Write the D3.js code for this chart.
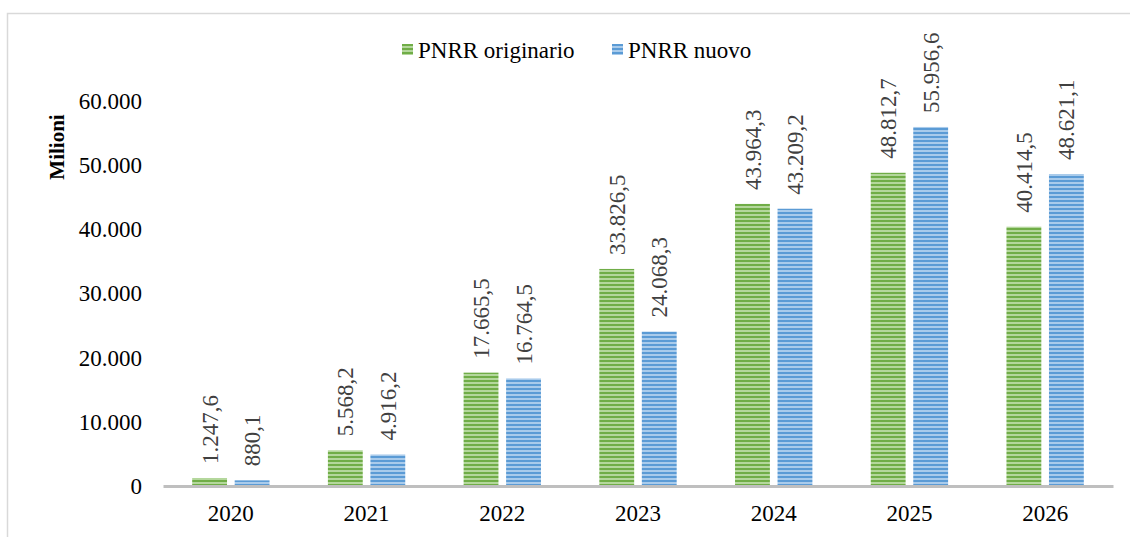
<!DOCTYPE html>
<html>
<head>
<meta charset="utf-8">
<script src="https://cdn.jsdelivr.net/npm/d3@7"></script>
<style>
  body { margin: 0; background: #fff; }
  svg text { font-family: "Liberation Serif", "Times New Roman", "DejaVu Serif", serif; }
</style>
</head>
<body>
<svg id="chart" width="1130" height="537"></svg>
<script>
const years = ["2020", "2021", "2022", "2023", "2024", "2025", "2026"];
const originario = [1247.6, 5568.2, 17665.5, 33826.5, 43964.3, 48812.7, 40414.5];
const nuovo = [880.1, 4916.2, 16764.5, 24068.3, 43209.2, 55956.6, 48621.1];
const seriesNames = ["PNRR originario", "PNRR nuovo"];
const yTicks = [0, 10000, 20000, 30000, 40000, 50000, 60000];

const width = 1130, height = 537;
const margins = { top: 101, right: 17, bottom: 51, left: 163 };
const colors = [
  { base: "#70ad47", light: "#b4d79c" },
  { base: "#5b9bd5", light: "#a9cbeb" },
];

const it = d3.formatLocale({ decimal: ",", thousands: ".", grouping: [3], currency: ["€", ""] });
const fmtTick = it.format(",.0f");
const fmtLabel = it.format(",.1f");

const svg = d3.select("#chart");

// striped fills
const defs = svg.append("defs");
colors.forEach((c, i) => {
  const p = defs.append("pattern")
    .attr("id", "stripe" + i)
    .attr("patternUnits", "userSpaceOnUse")
    .attr("width", 8).attr("height", 4);
  p.append("rect").attr("width", 8).attr("height", 4).attr("fill", c.light);
  p.append("rect").attr("width", 8).attr("height", 2).attr("y", 0).attr("fill", c.base);
});

// outer frame
svg.append("rect")
  .attr("x", 7.5).attr("y", 13.5)
  .attr("width", 1140).attr("height", 540)
  .attr("fill", "none").attr("stroke", "#d9d9d9").attr("stroke-width", 1.5);

const x = d3.scaleBand()
  .domain(years)
  .range([margins.left, width - margins.right])
  .paddingInner(0.43).paddingOuter(0.215);

const x1 = d3.scaleBand()
  .domain(seriesNames)
  .range([0, x.bandwidth()])
  .paddingInner(0.18);

const y = d3.scaleLinear()
  .domain([0, 60000])
  .range([height - margins.bottom, margins.top]);

// y axis labels (no line)
svg.append("g")
  .attr("transform", `translate(${margins.left},0)`)
  .call(d3.axisLeft(y).tickValues(yTicks).tickFormat(fmtTick).tickSize(0).tickPadding(21))
  .call(g => g.select(".domain").remove())
  .call(g => g.selectAll("text").attr("font-size", 23).attr("fill", "#000"));

const rows = years.map((yr, i) => ({ year: yr, values: [originario[i], nuovo[i]] }));

const groups = svg.selectAll(".yr")
  .data(rows)
  .enter()
  .append("g")
  .attr("class", "yr")
  .attr("transform", (d) => `translate(${x(d.year)},0)`);

groups.selectAll("rect")
  .data((d) => d.values.map((v, k) => ({ v, k })))
  .enter()
  .append("rect")
  .attr("x", (d) => x1(seriesNames[d.k]))
  .attr("y", (d) => y(d.v))
  .attr("width", x1.bandwidth())
  .attr("height", (d) => y(0) - y(d.v))
  .attr("fill", (d) => `url(#stripe${d.k})`);

groups.selectAll("text")
  .data((d) => d.values.map((v, k) => ({ v, k })))
  .enter()
  .append("text")
  .attr("transform", (d) => `translate(${x1(seriesNames[d.k]) + x1.bandwidth() / 2},${y(d.v) - 14}) rotate(-90)`)
  .attr("dy", "0.35em")
  .attr("font-size", 23)
  .attr("fill", "#404040")
  .text((d) => fmtLabel(d.v));

// x axis
svg.append("g")
  .attr("transform", `translate(0,${y(0)})`)
  .call(d3.axisBottom(x).tickSize(0).tickPadding(19))
  .call(g => g.select(".domain").attr("stroke", "#bfbfbf").attr("stroke-width", 3))
  .call(g => g.selectAll("text").attr("font-size", 23).attr("fill", "#000"));

// y title
svg.append("text")
  .attr("transform", "translate(57,147) rotate(-90)")
  .attr("text-anchor", "middle")
  .attr("dy", "0.35em")
  .attr("font-size", 21)
  .attr("font-weight", "bold")
  .text("Milioni");

// legend
const legend = svg.append("g");
const legendX = [402, 612];
seriesNames.forEach((name, i) => {
  legend.append("rect")
    .attr("x", legendX[i]).attr("y", 44)
    .attr("width", 11).attr("height", 11)
    .attr("fill", `url(#stripe${i})`);
  legend.append("text")
    .attr("x", legendX[i] + 16).attr("y", 50)
    .attr("dy", "0.35em")
    .attr("font-size", 23)
    .text(name);
});
</script>
</body>
</html>
